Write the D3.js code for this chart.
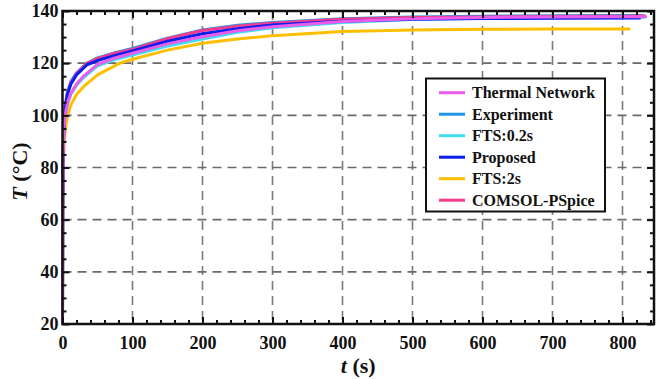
<!DOCTYPE html>
<html><head><meta charset="utf-8">
<script src="https://cdn.jsdelivr.net/npm/d3@7"></script>
<style>
html,body{margin:0;padding:0;background:#fff;}
svg{display:block;}
</style></head><body>
<svg id="c" width="656" height="379" font-family="Liberation Serif"></svg>
<script>
// ---- data ----
const seriesNames = ["Thermal Network","Experiment","FTS:0.2s","Proposed","FTS:2s","COMSOL-PSpice"];
const seriesColors = ["#EA5CEA","#1E96E6","#40DDEE","#0A1EF0","#FFBF00","#F93B8C"];
const xTicks = [0,100,200,300,400,500,600,700,800];
const yTicks = [20,40,60,80,100,120,140];

const tThermal = [0,0.4,1,2,3,5,8,12,20,30,50,75,100,150,200,250,300,400,500,600,700,800,835];
const vThermal = [20,70,85,94,98,102,105.5,108.5,112,115,119.5,122,123.8,127.4,130.1,132.4,134,136,137,137.5,137.7,137.8,137.8];

const tExperiment = [0,0.3,0.8,1.5,2.5,4,7,12,20,35,50,75,100,150,200,250,300,400,500,600,700,800,830];
const vExperiment = [20,65,84,93,99,104,109,113,116.3,120,122,124,125.6,129.6,132.7,134.5,135.6,137,137.7,138,138.2,138.3,138.3];

const tFTS02 = [0,0.4,1,2,3,5,8,12,20,30,50,75,100,150,200,250,300,400,500,600,700,800,832];
const vFTS02 = [20,68,84,93,97.5,101.5,105,108,111.5,114.5,119,121.4,123.1,126.6,129.3,131.8,133.6,135.6,136.7,137.2,137.5,137.6,137.6];

const tProposed = [0,0.3,0.8,1.5,2.5,4,7,12,20,35,50,75,100,150,200,250,300,400,500,600,700,826];
const vProposed = [20,62,82,91,97.5,102.5,108,112,115.5,119.4,121,123,124.7,128.4,131.3,133.2,134.6,136.1,136.8,137.1,137.2,137.3];

const tFTS2 = [0,0.5,1.2,2.5,4,6,8,12,20,30,50,82,100,150,200,250,300,400,500,600,700,811];
const vFTS2 = [20,66,82,90,94.5,98,100.5,104,108,111,115.5,120,121.5,125,127.6,129.3,130.5,132.1,132.7,133,133.1,133.1];

const tCOMSOL = [0,0.3,0.8,1.5,2.5,4,7,12,20,35,50,75,100,150,200,250,300,400,500,600,700,800,833];
const vCOMSOL = [20,63,83,92,98,103,108.5,112.5,116,119.9,121.8,123.8,125.3,129.4,132.5,134.2,135.3,136.8,137.5,137.7,137.9,138,138.1];

const seriesT = [tThermal,tExperiment,tFTS02,tProposed,tFTS2,tCOMSOL];
const seriesV = [vThermal,vExperiment,vFTS02,vProposed,vFTS2,vCOMSOL];

// ---- layout ----
const FONT = "Liberation Serif";
const svg = d3.select("#c");
const L = 62.5, R = 654, T = 11, B = 324;
const x = d3.scaleLinear().domain([0,845]).range([L,R]);
const y = d3.scaleLinear().domain([20,140]).range([B,T]);

// grid
const grid = svg.append("g");
grid.selectAll("line.vx").data(xTicks.filter(d=>d>0)).join("line")
  .attr("x1",d=>x(d)).attr("x2",d=>x(d)).attr("y1",T).attr("y2",B)
  .attr("stroke","#7a7a7a").attr("stroke-width",1.6).attr("stroke-dasharray","9,6");
grid.selectAll("line.hy").data(yTicks.filter(d=>d>20&&d<140)).join("line")
  .attr("y1",d=>y(d)).attr("y2",d=>y(d)).attr("x1",L).attr("x2",R)
  .attr("stroke","#6a6a6a").attr("stroke-width",1.6).attr("stroke-dasharray","9,6");

// curves
const line = d3.line().x(d=>x(d[0])).y(d=>y(d[1]));
const order = [4,2,1,5,3,0];
order.forEach(i=>{
  const pts = seriesT[i].map((t,k)=>[t,seriesV[i][k]]);
  svg.append("path").datum(pts).attr("d",line).attr("fill","none")
    .attr("stroke",seriesColors[i]).attr("stroke-width",3).attr("stroke-linejoin","round");
});

// axes with inward ticks
const minorX = d3.range(0,846,20).filter(d=>d%100!==0);
const minorY = d3.range(20,141,5).filter(d=>d%20!==0);
function styleAxis(g){
  g.attr("font-family",FONT).attr("font-size",18).attr("font-weight","bold");
  g.select(".domain").remove();
  g.selectAll(".tick line").attr("stroke","#111").attr("stroke-width",2);
  g.selectAll("text").attr("fill","#111");
}
svg.append("g").attr("transform",`translate(0,${B})`)
  .call(d3.axisBottom(x).tickValues(xTicks).tickSizeInner(-7).tickSizeOuter(0).tickPadding(12).tickFormat(d3.format("d")))
  .call(styleAxis);
svg.append("g").attr("transform",`translate(0,${B})`)
  .call(d3.axisBottom(x).tickValues(minorX).tickSize(-4).tickFormat(""))
  .call(styleAxis);
svg.append("g").attr("transform",`translate(0,${T})`)
  .call(d3.axisTop(x).tickValues(xTicks).tickSize(-7).tickFormat(""))
  .call(styleAxis);
svg.append("g").attr("transform",`translate(0,${T})`)
  .call(d3.axisTop(x).tickValues(minorX).tickSize(-4).tickFormat(""))
  .call(styleAxis);
svg.append("g").attr("transform",`translate(${L},0)`)
  .call(d3.axisLeft(y).tickValues(yTicks).tickSizeInner(-7).tickSizeOuter(0).tickPadding(4).tickFormat(d3.format("d")))
  .call(styleAxis);
svg.append("g").attr("transform",`translate(${L},0)`)
  .call(d3.axisLeft(y).tickValues(minorY).tickSize(-4).tickFormat(""))
  .call(styleAxis);
svg.append("g").attr("transform",`translate(${R},0)`)
  .call(d3.axisRight(y).tickValues(yTicks).tickSize(-7).tickFormat(""))
  .call(styleAxis);
svg.append("g").attr("transform",`translate(${R},0)`)
  .call(d3.axisRight(y).tickValues(minorY).tickSize(-4).tickFormat(""))
  .call(styleAxis);

// frame
svg.append("rect").attr("x",L).attr("y",T).attr("width",R-L).attr("height",B-T)
  .attr("fill","none").attr("stroke","#111").attr("stroke-width",2.5);

// axis titles
const xt = svg.append("text").attr("x",(L+R)/2).attr("y",373).attr("text-anchor","middle")
  .attr("font-family",FONT).attr("font-weight","bold").attr("font-size",22).attr("fill","#111");
xt.append("tspan").attr("font-style","italic").text("t");
xt.append("tspan").text(" (s)");
const yt = svg.append("text").attr("transform",`translate(27,${(T+B)/2+4}) rotate(-90)`)
  .attr("text-anchor","middle").attr("font-family",FONT).attr("font-weight","bold").attr("font-size",22).attr("fill","#111");
yt.append("tspan").attr("font-style","italic").text("T");
yt.append("tspan").text(" (°C)");

// legend
const lg = svg.append("g");
lg.append("rect").attr("x",426).attr("y",78.5).attr("width",179).attr("height",133)
  .attr("fill","#fff").attr("stroke","#111").attr("stroke-width",2);
seriesNames.forEach((n,i)=>{
  const yy = 92.7 + i*21.5;
  lg.append("line").attr("x1",439).attr("x2",465).attr("y1",yy).attr("y2",yy)
    .attr("stroke",seriesColors[i]).attr("stroke-width",3);
  lg.append("text").attr("x",472).attr("y",yy).attr("dy","0.35em")
    .attr("font-family",FONT).attr("font-weight","bold").attr("font-size",16).attr("fill","#111").text(n);
});
</script>
</body></html>
